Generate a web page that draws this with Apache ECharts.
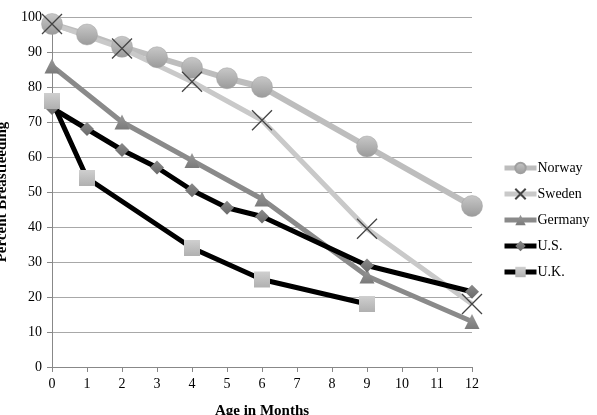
<!DOCTYPE html>
<html><head><meta charset="utf-8">
<script src="https://cdn.jsdelivr.net/npm/echarts@6/dist/echarts.min.js"></script>
<style>html,body{margin:0;padding:0;background:#fff}#c{width:597px;height:415px}</style>
</head><body><div id="c"></div>
<script>
var norwayX = [0,1,2,3,4,5,6,9,12];
var norwayY = [98,95,91.5,88.5,85.5,82.5,80,63,46];
var swedenX = [0,2,4,6,9,12];
var swedenY = [98,91,81.5,70.5,39.5,18];
var germanyX = [0,2,4,6,9,12];
var germanyY = [86,70,59,48,26,13];
var usX = [0,1,2,3,4,5,6,9,12];
var usY = [74,68,62,57,50.5,45.5,43,29,21.5];
var ukX = [0,1,4,6,9];
var ukY = [76,54,34,25,18];
var xTicks = [0,1,2,3,4,5,6,7,8,9,10,11,12];
var names = ['Norway','Sweden','Germany','U.S.','U.K.'];

function pairs(xs, ys){ return xs.map(function(x,i){return [x, ys[i]];}); }
var font = 'Liberation Serif';
function grad(c1,c2){ return new echarts.graphic.LinearGradient(0,0,0,1,[{offset:0,color:c1},{offset:1,color:c2}]); }
var chart = echarts.init(document.getElementById('c'));
chart.setOption({
  animation:false,
  textStyle:{fontFamily:font},
  grid:{left:52,right:125,top:17,bottom:48,containLabel:false,outerBoundsMode:'none'},
  legend:{orient:'vertical',left:497,top:156,itemWidth:32,itemHeight:13,itemGap:12,
    textStyle:{fontFamily:font,fontSize:14,color:'#000',padding:[0,0,0,-4]},
    data:names.map(function(n){return {name:n,lineStyle:{width:5}};})},
  xAxis:{type:'value',min:0,max:12,interval:1,
    name:'Age in Months',nameLocation:'middle',nameGap:37,
    nameTextStyle:{fontFamily:font,fontWeight:'bold',fontSize:15,color:'#000'},
    axisLine:{lineStyle:{color:'#888'}},
    axisTick:{show:true,length:5,lineStyle:{color:'#888'}},
    axisLabel:{color:'#000',fontSize:14,margin:10,formatter:function(v){return xTicks.indexOf(v)>=0?String(v):'';}},
    splitLine:{show:false}},
  yAxis:{type:'value',min:0,max:100,interval:10,
    name:'Percent Breastfeeding',nameLocation:'middle',nameGap:42,
    nameTextStyle:{fontFamily:font,fontWeight:'bold',fontSize:15,color:'#000'},
    axisLine:{show:true,lineStyle:{color:'#888'}},
    axisTick:{show:true,length:5,lineStyle:{color:'#888'}},
    axisLabel:{color:'#000',fontSize:14,margin:10},
    splitLine:{lineStyle:{color:'#a8a8a8',width:1}}},
  series:[
    {name:'Norway',type:'line',data:pairs(norwayX,norwayY),symbol:'circle',symbolSize:21,
      lineStyle:{color:'#bdbdbd',width:6},
      itemStyle:{color:grad('#c8c8c8','#9a9a9a'),borderColor:'#a0a0a0',borderWidth:0.5}},
    {name:'Sweden',type:'line',data:pairs(swedenX,swedenY),
      symbol:'path://M0,0L10,10M10,0L0,10',symbolSize:20,
      lineStyle:{color:'#c9c9c9',width:5},
      itemStyle:{color:'rgba(0,0,0,0)',borderColor:'#444',borderWidth:1.3}},
    {name:'Germany',type:'line',data:pairs(germanyX,germanyY),symbol:'triangle',symbolSize:15,
      lineStyle:{color:'#8a8a8a',width:5},
      itemStyle:{color:grad('#999','#7a7a7a')}},
    {name:'U.S.',type:'line',data:pairs(usX,usY),symbol:'diamond',symbolSize:14,
      lineStyle:{color:'#000',width:5},
      itemStyle:{color:grad('#8a8a8a','#6a6a6a')}},
    {name:'U.K.',type:'line',data:pairs(ukX,ukY),symbol:'rect',symbolSize:16,
      lineStyle:{color:'#000',width:5},
      itemStyle:{color:grad('#cfcfcf','#b0b0b0')}}
  ]
});
</script></body></html>
